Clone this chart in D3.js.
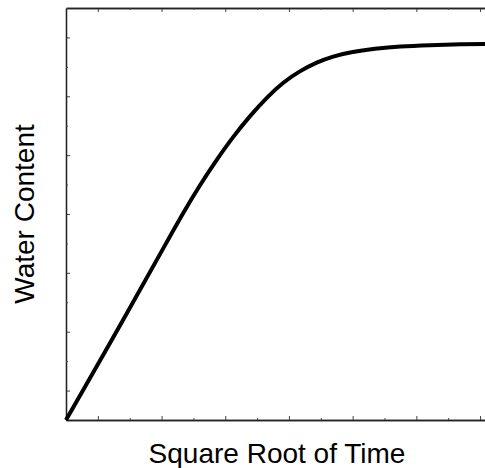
<!DOCTYPE html>
<html>
<head>
<meta charset="utf-8">
<title>Water Content vs Square Root of Time</title>
<style>
  body { margin: 0; background: #fff; }
  .axis path { stroke: #222; stroke-width: 1.3px; }
  .axis line { stroke: #444; }
  .axis text { display: none; }
  .curve { fill: none; stroke: #000; stroke-width: 4px; stroke-linejoin: round; }
  .label { font-family: "Liberation Sans", Arial, sans-serif; font-size: 28px; fill: #000; }
</style>
</head>
<body>
<svg id="chart" width="485" height="468"></svg>
<script src="https://d3js.org/d3.v7.min.js"></script>
<script>
// sqrt(time) and water content (arbitrary units)
var sqrtTime = [0, 1.0, 1.6, 1.84, 2.1, 2.37, 2.62, 2.89, 3.16, 3.41, 3.67, 3.94, 4.19, 4.46, 4.85, 5.24, 5.71, 6.19, 6.7];
var water    = [0, 1.89, 3.06, 3.52, 3.99, 4.43, 4.81, 5.17, 5.49, 5.74, 5.93, 6.08, 6.18, 6.25, 6.31, 6.35, 6.37, 6.385, 6.39];

var majorTicks = [0.5, 1.5, 2.5, 3.5, 4.5, 5.5, 6.5];
var minorTicks = [1, 2, 3, 4, 5, 6, 7];

var xLabel = "Square Root of Time",
    yLabel = "Water Content";

var svg = d3.select("#chart");
// (window.top is read-only, so no "top" here)
var plotLeft = 66, plotTop = 8, plotBottom = 420;

// plot keeps going past the right edge of the page, like the original
var x = d3.scaleLinear().domain([0, 7]).range([plotLeft, plotLeft + 14 * 31.85]);
var y = d3.scaleLinear().domain([0, 7]).range([plotBottom, plotTop]);

function addAxis(axisFn, scale, ticks, size, transform) {
    svg.append("g")
        .attr("class", "axis")
        .attr("transform", transform)
        .call(axisFn(scale).tickValues(ticks).tickSize(size).tickSizeOuter(0).tickFormat(""));
}

// ticks point inward on all sides
addAxis(d3.axisBottom, x, majorTicks, -4, "translate(0," + plotBottom + ")");
addAxis(d3.axisBottom, x, minorTicks, -2, "translate(0," + plotBottom + ")");
addAxis(d3.axisTop, x, majorTicks, -4, "translate(0," + plotTop + ")");
addAxis(d3.axisTop, x, minorTicks, -2, "translate(0," + plotTop + ")");
addAxis(d3.axisLeft, y, majorTicks, -4, "translate(" + plotLeft + ",0)");
addAxis(d3.axisLeft, y, minorTicks, -2, "translate(" + plotLeft + ",0)");

var pts = sqrtTime.map(function(t, i) { return [t, water[i]]; });

// basis smooths out small reading errors in the points
var line = d3.line()
    .x(function(d) { return x(d[0]); })
    .y(function(d) { return y(d[1]); })
    .curve(d3.curveBasis);

svg.append("path")
    .datum(pts)
    .attr("class", "curve")
    .attr("d", line);

svg.append("text")
    .attr("class", "label")
    .attr("x", 277)
    .attr("y", 463)
    .attr("text-anchor", "middle")
    .text(xLabel);

svg.append("text")
    .attr("class", "label")
    .attr("transform", "translate(34," + ((plotTop + plotBottom) / 2) + ") rotate(-90)")
    .attr("text-anchor", "middle")
    .text(yLabel);
</script>
</body>
</html>
